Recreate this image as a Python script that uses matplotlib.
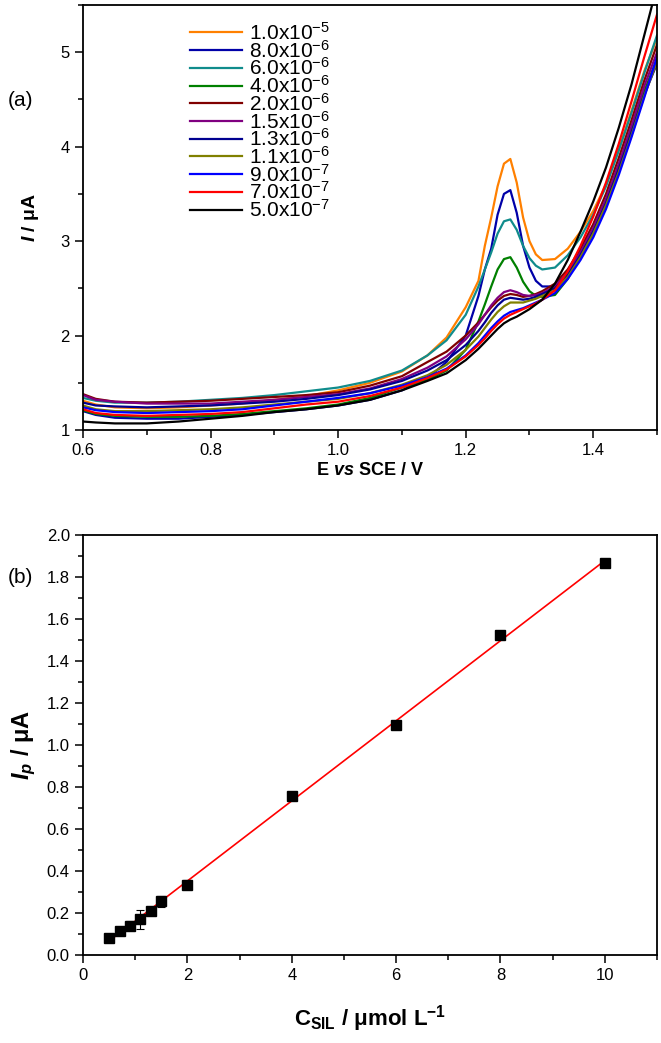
import numpy as np
import matplotlib
matplotlib.use("Agg")
import matplotlib.pyplot as plt
from matplotlib.ticker import MultipleLocator

plt.rcParams['font.family'] = ['Liberation Sans', 'DejaVu Sans']
plt.rcParams['mathtext.fontset'] = 'custom'
plt.rcParams['mathtext.rm'] = 'Liberation Sans'
plt.rcParams['mathtext.it'] = 'Liberation Sans:italic'
plt.rcParams['mathtext.bf'] = 'Liberation Sans:bold'
plt.rcParams['mathtext.bfit'] = 'Liberation Sans:bold:italic'

# (a) voltammograms, potential grid (V)
E = [0.60, 0.62, 0.65, 0.70, 0.75, 0.80, 0.85, 0.90, 0.95, 1.00, 1.05, 1.10, 1.14, 1.17,
     1.20, 1.22, 1.23, 1.24, 1.25, 1.26, 1.27, 1.28, 1.29, 1.30, 1.31, 1.32, 1.34, 1.36,
     1.38, 1.40, 1.42, 1.44, 1.46, 1.48, 1.50]

labels = ['1.0x10$^{-5}$', '8.0x10$^{-6}$', '6.0x10$^{-6}$', '4.0x10$^{-6}$', '2.0x10$^{-6}$',
          '1.5x10$^{-6}$', '1.3x10$^{-6}$', '1.1x10$^{-6}$', '9.0x10$^{-7}$', '7.0x10$^{-7}$',
          '5.0x10$^{-7}$']
colors = ['#ff8000', '#0000a8', '#108c8c', '#008000', '#800000', '#800080', '#000090',
          '#808000', '#0000ff', '#ff0000', '#000000']

i_10e6 = [1.31, 1.27, 1.24, 1.23, 1.24, 1.26, 1.28, 1.32, 1.36, 1.42, 1.50, 1.62, 1.79, 1.98,
          2.30, 2.58, 2.95, 3.25, 3.58, 3.82, 3.87, 3.62, 3.25, 3.00, 2.86, 2.80, 2.81, 2.92,
          3.10, 3.32, 3.60, 3.97, 4.38, 4.80, 5.15]
i_8e6 = [1.20, 1.16, 1.13, 1.12, 1.12, 1.14, 1.16, 1.19, 1.22, 1.26, 1.32, 1.42, 1.55, 1.72,
         2.00, 2.42, 2.70, 2.92, 3.28, 3.50, 3.54, 3.30, 2.95, 2.72, 2.58, 2.52, 2.52, 2.66,
         2.88, 3.12, 3.42, 3.78, 4.17, 4.58, 4.92]
i_6e6 = [1.34, 1.31, 1.29, 1.29, 1.30, 1.32, 1.34, 1.37, 1.41, 1.45, 1.52, 1.63, 1.79, 1.95,
         2.22, 2.52, 2.70, 2.88, 3.08, 3.21, 3.23, 3.12, 2.95, 2.82, 2.74, 2.70, 2.72, 2.85,
         3.04, 3.28, 3.58, 3.96, 4.36, 4.78, 5.18]
i_4e6 = [1.21, 1.17, 1.15, 1.14, 1.14, 1.15, 1.17, 1.20, 1.23, 1.27, 1.34, 1.45, 1.53, 1.63,
         1.85, 2.15, 2.33, 2.52, 2.70, 2.81, 2.83, 2.72, 2.57, 2.47, 2.42, 2.41, 2.43, 2.60,
         2.85, 3.12, 3.42, 3.78, 4.17, 4.58, 4.93]
i_2e6 = [1.38, 1.33, 1.30, 1.29, 1.30, 1.31, 1.33, 1.35, 1.37, 1.40, 1.47, 1.57, 1.72, 1.83,
         2.00, 2.14, 2.22, 2.30, 2.37, 2.42, 2.44, 2.43, 2.41, 2.42, 2.44, 2.47, 2.55, 2.70,
         2.92, 3.18, 3.50, 3.88, 4.28, 4.70, 5.08]
i_15e6 = [1.37, 1.32, 1.30, 1.28, 1.28, 1.28, 1.30, 1.32, 1.35, 1.38, 1.44, 1.54, 1.66, 1.78,
          1.96, 2.12, 2.22, 2.32, 2.40, 2.46, 2.48, 2.46, 2.43, 2.42, 2.43, 2.45, 2.52, 2.67,
          2.88, 3.14, 3.45, 3.82, 4.22, 4.64, 5.00]
i_13e6 = [1.29, 1.26, 1.25, 1.24, 1.25, 1.26, 1.28, 1.30, 1.33, 1.37, 1.43, 1.52, 1.63, 1.74,
          1.90, 2.05, 2.14, 2.24, 2.32, 2.38, 2.40, 2.39, 2.38, 2.39, 2.41, 2.44, 2.50, 2.64,
          2.85, 3.10, 3.40, 3.76, 4.15, 4.55, 4.88]
i_11e6 = [1.26, 1.22, 1.20, 1.20, 1.21, 1.22, 1.24, 1.27, 1.30, 1.33, 1.39, 1.48, 1.58, 1.69,
          1.85, 1.99, 2.08, 2.17, 2.25, 2.31, 2.35, 2.35, 2.35, 2.37, 2.39, 2.42, 2.48, 2.62,
          2.83, 3.08, 3.38, 3.73, 4.12, 4.54, 4.90]
i_9e7 = [1.24, 1.21, 1.19, 1.18, 1.19, 1.20, 1.22, 1.26, 1.30, 1.34, 1.39, 1.47, 1.56, 1.65,
         1.79, 1.92, 2.00, 2.08, 2.15, 2.21, 2.25, 2.27, 2.29, 2.32, 2.35, 2.38, 2.45, 2.60,
         2.80, 3.04, 3.34, 3.70, 4.10, 4.52, 4.95]
i_7e7 = [1.22, 1.18, 1.16, 1.15, 1.16, 1.17, 1.19, 1.23, 1.27, 1.30, 1.36, 1.45, 1.55, 1.64,
         1.78, 1.90, 1.97, 2.05, 2.12, 2.18, 2.22, 2.25, 2.28, 2.31, 2.34, 2.38, 2.48, 2.68,
         2.95, 3.26, 3.62, 4.03, 4.48, 4.95, 5.40]
i_5e7 = [1.09, 1.08, 1.07, 1.07, 1.09, 1.12, 1.15, 1.19, 1.22, 1.26, 1.32, 1.42, 1.52, 1.60,
         1.74, 1.86, 1.93, 2.00, 2.07, 2.13, 2.17, 2.20, 2.24, 2.28, 2.33, 2.38, 2.55, 2.80,
         3.10, 3.42, 3.78, 4.20, 4.66, 5.18, 5.70]

currents = [i_10e6, i_8e6, i_6e6, i_4e6, i_2e6, i_15e6, i_13e6, i_11e6, i_9e7, i_7e7, i_5e7]

# (b) calibration
conc = [0.5, 0.7, 0.9, 1.1, 1.3, 1.5, 2.0, 4.0, 6.0, 8.0, 10.0]
ip = [0.080, 0.115, 0.140, 0.170, 0.210, 0.255, 0.335, 0.758, 1.095, 1.522, 1.865]
ip_err = [0.008, 0.010, 0.022, 0.045, 0.010, 0.028, 0.020, 0.010, 0.010, 0.010, 0.010]

fig = plt.figure(figsize=(6.61, 10.43), dpi=100)
ax1 = fig.add_axes([0.1256, 0.5877, 0.8684, 0.4075])
ax2 = fig.add_axes([0.1256, 0.0844, 0.8684, 0.4027])

for y, c, lab in zip(currents, colors, labels):
    ax1.plot(E, y, color=c, lw=1.6, label=lab)

ax1.set_xlim(0.6, 1.5)
ax1.set_ylim(1.0, 5.5)
ax1.xaxis.set_major_locator(MultipleLocator(0.2))
ax1.xaxis.set_minor_locator(MultipleLocator(0.1))
ax1.yaxis.set_major_locator(MultipleLocator(1))
ax1.yaxis.set_minor_locator(MultipleLocator(0.5))
ax1.set_xlabel(r'E $\bfit{vs}$ SCE / V', fontsize=13, fontweight='bold', labelpad=3)
ax1.set_ylabel(r'$\bfit{I}$ / μA', fontsize=14, fontweight='bold', labelpad=14)
ax1.legend(loc='upper left', bbox_to_anchor=(0.165, 0.99), frameon=False, fontsize=15,
           handlelength=2.5, handletextpad=0.3, labelspacing=-0.2, borderaxespad=0.2)
fig.text(0.012, 0.904, '(a)', fontsize=15, va='center')

ax2.errorbar(conc, ip, yerr=ip_err, fmt='s', color='black', ms=6.5, capsize=3,
             elinewidth=0.8, capthick=0.8, zorder=3)
k, b = np.polyfit(conc, ip, 1)
xfit = np.array([conc[0], conc[-1]])
ax2.plot(xfit, k * xfit + b, color='red', lw=1.2, zorder=2)
ax2.set_xlim(0, 11)
ax2.set_ylim(0, 2.0)
ax2.xaxis.set_major_locator(MultipleLocator(2))
ax2.xaxis.set_minor_locator(MultipleLocator(1))
ax2.yaxis.set_major_locator(MultipleLocator(0.2))
ax2.yaxis.set_minor_locator(MultipleLocator(0.1))
ax2.set_xlabel(r'C$_{\mathbf{SIL}}$ / μmol L$^{\mathbf{-1}}$', fontsize=16, fontweight='bold', labelpad=14)
ax2.set_ylabel(r'$\bfit{I_p}$ / μA', fontsize=17, fontweight='bold', labelpad=6)
fig.text(0.012, 0.446, '(b)', fontsize=15, va='center')

for ax in (ax1, ax2):
    for s in ax.spines.values():
        s.set_linewidth(1.3)
    ax.tick_params(which='both', direction='out', top=False, right=False,
                   labelsize=12, width=1.1)
    ax.tick_params(which='major', length=6)
    ax.tick_params(which='minor', length=3.5)

fig.savefig('out.png', dpi=100)
